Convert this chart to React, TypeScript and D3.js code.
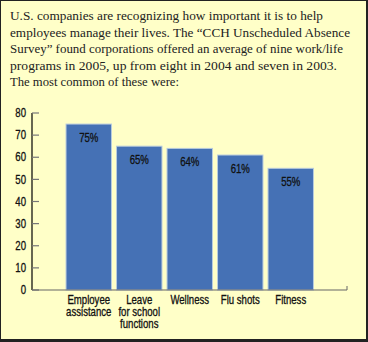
import React from "react";
import * as d3 from "d3";

const introLines = [
  "U.S. companies are recognizing how important it is to help",
  "employees manage their lives. The \u201CCCH Unscheduled Absence",
  "Survey\u201D found corporations offered an average of nine work/life",
  "programs in 2005, up from eight in 2004 and seven in 2003.",
  "The most common of these were:",
];
const introWidths = [313, 340, 333, 327, 169];

const categories = [
  ["Employee", "assistance"],
  ["Leave", "for school", "functions"],
  ["Wellness"],
  ["Flu shots"],
  ["Fitness"],
];
const values = [75, 65, 64, 61, 55];
const yTicks = [0, 10, 20, 30, 40, 50, 60, 70, 80];

const W = 368;
const H = 342;
const SANS = "'Liberation Sans', Arial, sans-serif";
const SX = 0.8;

function Narrow({ x, y, anchor, size, children }: any) {
  return (
    <text
      transform={`translate(${x},${y}) scale(${SX},1)`}
      textAnchor={anchor}
      fontFamily={SANS}
      fontSize={size}
      fill="#111"
      stroke="#111"
      strokeWidth={0.3}
    >
      {children}
    </text>
  );
}

export default function App() {
  const y = d3.scaleLinear().domain([0, 80]).range([290, 113]);
  const x = d3
    .scaleBand<number>()
    .domain(d3.range(categories.length))
    .range([63.5, 316])
    .paddingInner(0.1)
    .paddingOuter(0.05);

  return (
    <svg
      width={W}
      height={H}
      style={{ position: "absolute", left: 0, top: 0, display: "block" }}
    >
      <rect x={0} y={0} width={W} height={H} fill="#222" />
      <rect x={1} y={1} width={W - 3} height={H - 4} fill="#FFFFC8" />
      <g fontFamily="'Liberation Serif', 'Times New Roman', serif" fontSize={13.5} fill="#222">
        {introLines.map((t, i) => (
          <text
            key={i}
            x={10}
            y={20 + i * 16.5}
            textLength={introWidths[i]}
            lengthAdjust="spacingAndGlyphs"
          >
            {t}
          </text>
        ))}
      </g>
      {values.map((v, i) => {
        const cx = x(i)! + x.bandwidth() / 2;
        return (
          <g key={i}>
            <rect
              x={x(i)!}
              y={y(v)}
              width={x.bandwidth()}
              height={y(0) - y(v)}
              fill="#4571B5"
              stroke="#B8CBDD"
              strokeWidth={1}
            />
            <Narrow x={cx} y={y(v) + 17.8} anchor="middle" size={12}>
              {v}%
            </Narrow>
            {categories[i].map((line, j) => (
              <Narrow key={j} x={cx} y={303.8 + j * 12} anchor="middle" size={12}>
                {line}
              </Narrow>
            ))}
          </g>
        );
      })}
      <line x1={32} x2={32} y1={y(80)} y2={y(0)} stroke="#000" strokeWidth={1.2} />
      {yTicks.map((t) => (
        <g key={t}>
          <line x1={32} x2={39} y1={y(t)} y2={y(t)} stroke="#777" strokeWidth={1.2} />
          <Narrow x={26} y={y(t) + 4.2} anchor="end" size={12}>
            {t}
          </Narrow>
        </g>
      ))}
      <line x1={32} x2={347} y1={290} y2={290} stroke="#666" strokeWidth={1.2} />
      <line x1={347} x2={347} y1={290} y2={286} stroke="#666" strokeWidth={1} />
    </svg>
  );
}
